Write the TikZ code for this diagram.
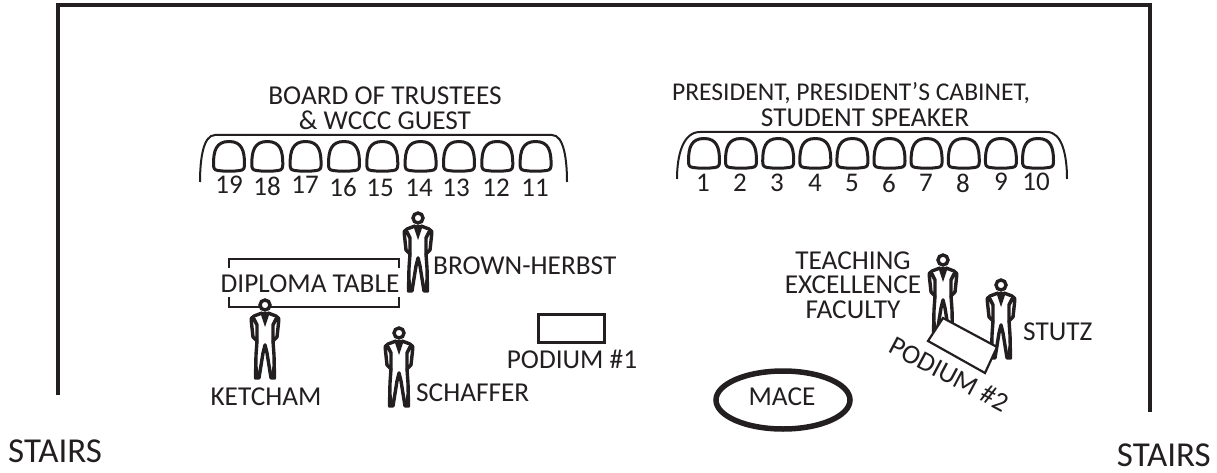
\documentclass[tikz,border=0pt]{standalone}
\usepackage{fontspec}
\setmainfont{Carlito}
\definecolor{ink}{HTML}{231F20}
\tikzset{
  x=1pt,y=-1pt,
  lbl/.style={inner sep=0pt,text=ink,font=\fontsize{27.3}{24.5}\selectfont,align=center},
  lblsmall/.style={inner sep=0pt,text=ink,font=\fontsize{25.6}{24.5}\selectfont,align=center},
  num/.style={inner sep=0pt,text=ink,font=\fontsize{27}{27}\selectfont},
  big/.style={inner sep=0pt,text=ink,font=\fontsize{35}{35}\selectfont},
  seatshape/.pic={\draw[ink,line width=3pt,fill=white,line join=round]
     (-11,14.5) .. controls (-15,14) and (-15.5,12) .. (-15.5,8)
     .. controls (-15.5,-5) and (-13,-14.5) .. (0,-14.5)
     .. controls (13,-14.5) and (15.5,-5) .. (15.5,8)
     .. controls (15.5,12) and (15,14) .. (11,14.5) .. controls (4,15.5) and (-4,15.5) .. cycle;},
  person/.pic={
    \draw[ink,line width=3.4pt,fill=white] (0,0) circle[radius=5];
    \fill[ink] (-5,7) -- (0,22) -- (5,7) -- cycle;
    \foreach \s in {-1,1}{
      \draw[ink,line width=3.4pt,line join=round,line cap=round]
        (\s*3,8) -- (\s*11,11) .. controls (\s*14,12) and (\s*14,14) .. (\s*13.5,18) -- (\s*12,32) -- (\s*8,36) -- (\s*8,20) -- (\s*11,14);
      \draw[ink,line width=3.4pt,line join=round,line cap=round]
        (\s*8,36) -- (\s*9,50) -- (\s*9.5,73) -- (\s*6,73) -- (\s*2,48) -- (0,40);
    }
    \fill[ink] (-10,50) -- (-5,73) -- (-10,74) -- cycle;
    \fill[ink] (10,50) -- (5,73) -- (10,74) -- cycle;
  }
}
\begin{document}
\begin{tikzpicture}
\useasboundingbox (0,0) rectangle (1217,473);
\draw[ink,line width=4pt,line join=miter] (58,395) -- (58,5) -- (1150,5) -- (1150,412);

% seating brackets
\draw[ink,line width=2pt] (200,182) .. controls (200,160) and (203,135) .. (215,135) -- (552,135) .. controls (564,135) and (567,160) .. (567,182);
\draw[ink,line width=2pt] (677,179) .. controls (677,155) and (683,132) .. (700,132) -- (1047,132) .. controls (1062,132) and (1067,155) .. (1067,179);

\foreach \i/\x in {19/229,18/267.3,17/305.6,16/344,15/382.3,14/420.6,13/459,12/497.3,11/535.6}{
  \pic at (\x,156) {seatshape};
}
\foreach \i/\x in {1/704,2/741,3/778.2,4/815.3,5/852.4,6/889.5,7/926.6,8/963.8,9/1000.9,10/1038}{
  \pic at (\x,153) {seatshape};
}
\foreach \t/\x/\y in {19/229/185,18/267/186,17/305/185,16/343/187,15/380/188,14/419/188,13/456/188,12/496/188,11/535/188,
  1/703/183,2/740/183,3/777/183,4/815/183,5/852/183,6/889/183,7/926/183,8/963/183,9/1001/182,10/1036/182}{
  \node[num] (n\t) at (\x,\y) {\t};
}

\node[lbl] (board) at (385,108) {BOARD OF TRUSTEES\\\& WCCC GUEST};
\node[lblsmall] (pres) at (851,93) {PRESIDENT, PRESIDENT’S CABINET,};
\node[lbl] (pres2) at (865,118) {STUDENT SPEAKER};

% diploma table
\draw[ink,line width=2.6pt] (229,268) -- (229,259) -- (399,259) -- (399,268);
\draw[ink,line width=2.6pt] (229,297) -- (229,307) -- (399,307) -- (399,297);
\node[lbl] (dip) at (310,284) {DIPLOMA TABLE};

\pic at (418,218) {person};
\pic at (265,305) {person};
\pic at (399,333) {person};
\pic at (943,260) {person};
\pic at (1001,285) {person};

\node[lbl,anchor=west] (bh) at (433,266) {BROWN-HERBST};
\node[lbl] (ket) at (266,397) {KETCHAM};
\node[lbl,anchor=west] (sch) at (416,393) {SCHAFFER};
\node[lbl] (teach) at (853,285) {TEACHING\\EXCELLENCE\\FACULTY};
\node[lbl,anchor=west] (stutz) at (1023,332) {STUTZ};

\node[draw=ink,line width=3pt,minimum width=66pt,minimum height=28pt,inner sep=0pt] (pod1) at (571.5,328) {};
\node[lbl] (pod1t) at (572,359) {PODIUM \#1};

\draw[ink,line width=2.2pt,fill=white,line join=miter] (943,318) -- (997,347) -- (985,373) -- (928,341) -- cycle;
\node[lbl,rotate=-28] (pod2t) at (949,374) {PODIUM \#2};

\draw[ink,line width=5.5pt] (783,400) ellipse[x radius=67, y radius=29];
\node[lbl] (mace) at (782,397) {MACE};

\node[big,anchor=west] (s1) at (8,451) {STAIRS};
\node[big,anchor=east] (s2) at (1211,455) {STAIRS};
\end{tikzpicture}
\end{document}
